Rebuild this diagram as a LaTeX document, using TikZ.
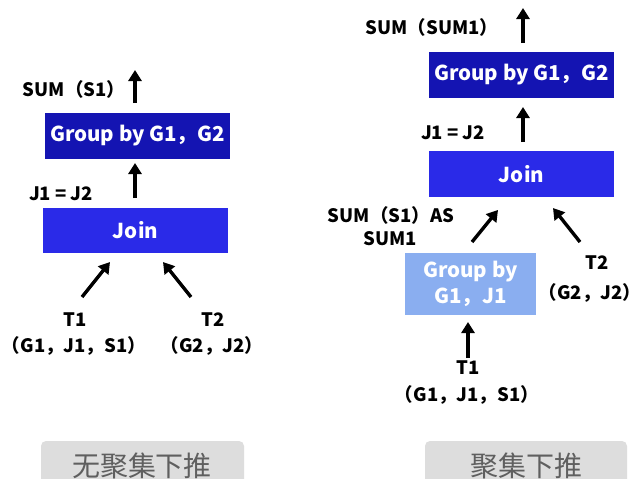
\documentclass[tikz,border=0pt]{standalone}
\usepackage{fontspec}
\setmainfont{Noto Sans CJK SC}
\usetikzlibrary{arrows.meta}
\definecolor{gdark}{RGB}{20,20,178}
\definecolor{jblue}{RGB}{42,42,232}
\definecolor{lblue}{RGB}{138,174,240}
\definecolor{gbox}{RGB}{221,221,221}
\definecolor{gtext}{RGB}{95,95,95}
\begin{document}
\begin{tikzpicture}[x=1pt,y=-1pt,
  box/.style={draw=none, inner sep=0pt, text=white, align=center,
    font=\fontsize{20.5}{26}\selectfont\bfseries},
  lbl/.style={inner sep=0pt, align=center, font=\fontsize{18.5}{22}\selectfont\bfseries},
  arr/.style={line width=3.4pt, -{Triangle[width=13pt,length=11pt]}},
  tab/.style={fill=gbox, rounded corners=5pt, inner sep=0pt},
  tabtext/.style={inner sep=0pt, text=gtext, font=\fontsize{28}{30}\selectfont}]
\useasboundingbox (0,0) rectangle (641,479);
\fill[white] (0,0) rectangle (641,479);

% ---------------- left: without aggregation push-down
\node[box, fill=gdark, minimum width=185, minimum height=46] (grpL) at (137.5,136) {Group by G1，G2};
\node[box, fill=jblue, minimum width=185, minimum height=45] (joinL) at (135.5,230.5) {Join};
\node[lbl] (sumL) at (74,89) {SUM（S1）};
\node[lbl] (jjL) at (61,194) {J1 = J2};
\node[lbl] (t1L) at (75,320) {T1};
\node[lbl] (a1L) at (74,346) {（G1，J1，S1）};
\node[lbl] (t2L) at (213,320) {T2};
\node[lbl] (a2L) at (212,346) {（G2，J2）};
\coordinate (topL) at (135,70);
\coordinate (botL) at (135,103);
\coordinate (midLs) at (135,198);
\coordinate (midLe) at (135,163);
\coordinate (d1Ls) at (82,297);
\coordinate (d1Le) at (110,262);
\coordinate (d2Ls) at (191,297);
\coordinate (d2Le) at (163,262);
\draw[arr] (botL) -- (topL);
\draw[arr] (midLs) -- (midLe);
\draw[arr] (d1Ls) -- (d1Le);
\draw[arr] (d2Ls) -- (d2Le);
\node[tab, minimum width=203, minimum height=70] (tabL) at (142.5,476) {};
\node[tabtext] (tabLt) at (142,466) {无聚集下推};

% ---------------- right: with aggregation push-down
\node[box, fill=gdark, minimum width=185, minimum height=46] (grpR) at (521.5,75) {Group by G1，G2};
\node[box, fill=jblue, minimum width=185, minimum height=46] (joinR) at (521.5,174) {Join};
\node[box, fill=lblue, minimum width=131, minimum height=62] (grpR2) at (470.5,284) {Group by\\G1，J1};
\node[lbl] (sumR) at (432,27) {SUM（SUM1）};
\node[lbl] (jjR) at (453,133) {J1 = J2};
\node[lbl] (asR) at (391,215) {SUM（S1）AS};
\node[lbl] (asR2) at (390,239) {SUM1};
\node[lbl] (t2R) at (597,263) {T2};
\node[lbl] (a2R) at (590,293) {（G2，J2）};
\node[lbl] (t1R) at (468,368) {T1};
\node[lbl] (a1R) at (467,395) {（G1，J1，S1）};
\coordinate (topRe) at (523,8);
\coordinate (topRs) at (523,43);
\coordinate (midRs) at (523,142);
\coordinate (midRe) at (523,107);
\coordinate (d1Rs) at (472,242);
\coordinate (d1Re) at (498,210);
\coordinate (d2Rs) at (580,242);
\coordinate (d2Re) at (553,208);
\coordinate (lowRs) at (468,358);
\coordinate (lowRe) at (468,322);
\draw[arr] (topRs) -- (topRe);
\draw[arr] (midRs) -- (midRe);
\draw[arr] (d1Rs) -- (d1Re);
\draw[arr] (d2Rs) -- (d2Re);
\draw[arr] (lowRs) -- (lowRe);
\node[tab, minimum width=202, minimum height=70] (tabR) at (526,476) {};
\node[tabtext] (tabRt) at (526,466) {聚集下推};
\end{tikzpicture}
\end{document}
